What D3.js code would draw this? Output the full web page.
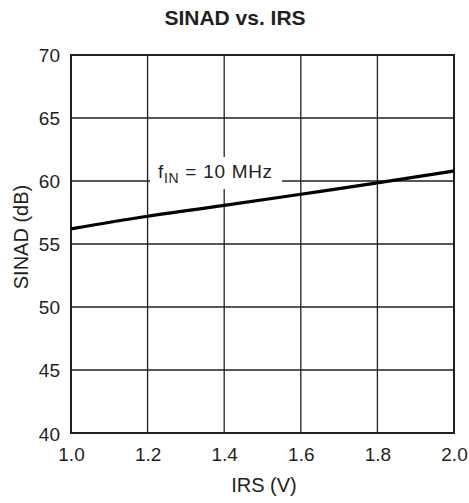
<!DOCTYPE html>
<html><head><meta charset="utf-8">
<script src="https://cdn.jsdelivr.net/npm/d3@7"></script>
<style>body{margin:0;background:#fff}svg{display:block}text{font-family:"Liberation Sans",Arial,sans-serif;fill:#231f20}</style>
</head><body><svg id="c" width="469" height="503"></svg>
<script>
const irs = [1.0, 1.2, 1.4, 1.6, 1.8, 2.0];
const sinad = [56.2, 57.2, 58.06, 58.95, 59.85, 60.8];
const xTicks = [1.0, 1.2, 1.4, 1.6, 1.8, 2.0];
const yTicks = [40, 45, 50, 55, 60, 65, 70];
const title = "SINAD vs. IRS";
const xLabel = "IRS (V)";
const yLabel = "SINAD (dB)";

const svg = d3.select("#c");
const L = 71, R = 454, T = 55, B = 433;
const x = d3.scaleLinear().domain([1.0, 2.0]).range([L, R]);
const y = d3.scaleLinear().domain([40, 70]).range([B, T]);
const ink = "#231f20";

// grid
svg.append("g").selectAll("line").data(xTicks).join("line")
  .attr("x1", d => x(d)).attr("x2", d => x(d)).attr("y1", T).attr("y2", B)
  .attr("stroke", ink).attr("stroke-width", 1.3);
svg.append("g").selectAll("line").data(yTicks).join("line")
  .attr("y1", d => y(d)).attr("y2", d => y(d)).attr("x1", L).attr("x2", R)
  .attr("stroke", ink).attr("stroke-width", 1.3);
svg.append("rect").attr("x", L).attr("y", T).attr("width", R - L).attr("height", B - T)
  .attr("fill", "none").attr("stroke", ink).attr("stroke-width", 2);

// axes labels via d3 axes
const xa = svg.append("g").attr("transform", `translate(0,${B})`)
  .call(d3.axisBottom(x).tickValues(xTicks).tickFormat(d3.format(".1f")).tickSize(0).tickPadding(14));
xa.select(".domain").remove();
xa.selectAll("text").attr("font-size", 19).attr("fill", ink).attr("dy", "0.72em");
const ya = svg.append("g").attr("transform", `translate(${L},0)`)
  .call(d3.axisLeft(y).tickValues(yTicks).tickSize(0).tickPadding(11));
ya.select(".domain").remove();
ya.selectAll("text").attr("font-size", 19).attr("fill", ink).attr("dy", "0.36em");
ya.selectAll(".tick").filter(d => d === 40).select("text").attr("dy", "0.42em");

// data line
svg.append("path").datum(irs.map((d, i) => [d, sinad[i]]))
  .attr("d", d3.line().x(d => x(d[0])).y(d => y(d[1])).curve(d3.curveMonotoneX))
  .attr("fill", "none").attr("stroke", "#000").attr("stroke-width", 3.2);

// label box
svg.append("rect").attr("x", 150).attr("y", 157).attr("width", 132).attr("height", 32).attr("fill", "#fff");
const lab = svg.append("text").attr("x", 158).attr("y", 178).attr("font-size", 19).attr("letter-spacing", 0.7);
lab.append("tspan").text("f");
lab.append("tspan").text("IN").attr("font-size", 14).attr("dy", 5);
lab.append("tspan").text(" = 10 MHz").attr("dy", -5);

// titles
svg.append("text").attr("x", 235).attr("y", 25).attr("text-anchor", "middle")
  .attr("font-size", 21).attr("font-weight", "bold").text(title);
svg.append("text").attr("x", 264).attr("y", 492).attr("text-anchor", "middle")
  .attr("font-size", 20).text(xLabel);
svg.append("text").attr("transform", `translate(28,${(T + B) / 2 - 7}) rotate(-90)`)
  .attr("text-anchor", "middle").attr("font-size", 20).text(yLabel);
</script></body></html>
